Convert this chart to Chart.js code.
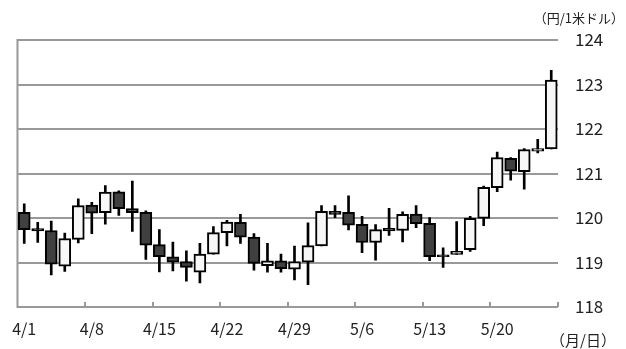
<!DOCTYPE html>
<html>
<head>
<meta charset="utf-8">
<script src="https://cdn.jsdelivr.net/npm/chart.js@4/dist/chart.umd.min.js"></script>
<style>
  html, body { margin: 0; padding: 0; background: #ffffff; }
  #wrap { width: 626px; height: 349px; }
</style>
</head>
<body>
<div id="wrap"><canvas id="c" width="626" height="349"></canvas></div>
<script>
// Trading days (weekdays) and daily yen/dollar rates
const dates = ['4/1','4/2','4/3','4/6','4/7','4/8','4/9','4/10','4/13','4/14',
               '4/15','4/16','4/17','4/20','4/21','4/22','4/23','4/24','4/27','4/28',
               '4/29','4/30','5/1','5/4','5/5','5/6','5/7','5/8','5/11','5/12',
               '5/13','5/14','5/15','5/18','5/19','5/20','5/21','5/22','5/25','5/26'];

const openRate  = [120.13,119.76,119.72,118.92,119.52,120.29,120.12,120.59,120.21,120.13,
                   119.40,119.13,119.02,118.78,119.19,119.67,119.90,119.57,118.93,119.04,
                   118.85,119.01,119.37,120.15,120.13,119.86,119.45,119.77,119.72,120.09,
                   119.88,119.17,119.18,119.29,119.99,120.68,121.34,121.04,121.50,121.55];
const highRate  = [120.32,119.90,119.93,119.66,120.43,120.35,120.73,120.61,120.83,120.16,
                   119.74,119.46,119.26,119.43,119.81,119.95,120.08,119.65,119.43,119.19,
                   119.37,119.89,120.28,120.28,120.50,120.04,119.85,120.22,120.14,120.28,
                   120.01,119.33,119.92,120.04,120.72,121.48,121.36,121.56,121.77,123.32];
const lowRate   = [119.43,119.45,118.72,118.80,119.44,119.65,119.86,120.06,119.70,119.07,
                   118.79,118.81,118.58,118.54,119.19,119.37,119.43,118.83,118.78,118.78,
                   118.61,118.50,119.37,120.01,119.73,119.22,119.05,119.61,119.46,119.78,
                   119.04,118.89,119.18,119.25,119.83,120.59,120.85,120.65,121.46,121.55];
const closeRate = [119.74,119.71,118.96,119.54,120.28,120.11,120.58,120.21,120.12,119.39,
                   119.13,119.01,118.89,119.19,119.67,119.91,119.57,118.98,119.04,118.86,
                   119.02,119.38,120.15,120.08,119.84,119.45,119.74,119.71,120.08,119.87,
                   119.13,119.13,119.25,119.99,120.69,121.36,121.05,121.54,121.56,123.10];

const yTicks = [118, 119, 120, 121, 122, 123, 124];
const yUnit = '（円/1米ドル）';
const xUnit = '（月/日）';

const UP_FILL = '#f7f7f7';
const DOWN_FILL = '#404040';
const GRID = '#999999';
const TEXT = '#222222';
const FONT = "'Noto Sans CJK JP', 'Noto Sans', sans-serif";

const bodies = dates.map((d, i) => [openRate[i], closeRate[i]]);
const wicks = dates.map((d, i) => [lowRate[i], highRate[i]]);
const bodyFill = dates.map((d, i) => closeRate[i] >= openRate[i] ? UP_FILL : DOWN_FILL);

// left axis line, weekly tick marks and unit captions
const frame = {
  id: 'frame',
  beforeDatasetsDraw(chart) {
    const { ctx, chartArea: a, scales: { x } } = chart;
    const step = x.getPixelForValue(1) - x.getPixelForValue(0);
    ctx.save();
    ctx.strokeStyle = GRID;
    ctx.lineWidth = 2;
    ctx.beginPath();
    ctx.moveTo(a.left, a.top - 1);
    ctx.lineTo(a.left, a.bottom + 1);
    for (let i = 5; i <= dates.length; i += 5) {
      const px = Math.round(x.getPixelForValue(i) - step / 2);
      ctx.moveTo(px, a.bottom);
      ctx.lineTo(px, a.bottom - 5);
    }
    ctx.stroke();
    ctx.restore();
  },
  afterDraw(chart) {
    const { ctx } = chart;
    ctx.save();
    ctx.fillStyle = TEXT;
    ctx.textAlign = 'right';
    ctx.textBaseline = 'middle';
    ctx.font = '13px ' + FONT;
    ctx.fillText(yUnit, 624, 18);
    ctx.font = '15px ' + FONT;
    ctx.fillText(xUnit, 616, 340);
    ctx.restore();
  }
};

new Chart(document.getElementById('c'), {
  type: 'bar',
  data: {
    labels: dates,
    datasets: [
      {
        label: 'body',
        data: bodies,
        backgroundColor: bodyFill,
        borderColor: '#000000',
        borderWidth: 2,
        borderSkipped: false,
        barThickness: 12,
        grouped: false,
        order: 1
      },
      {
        label: 'range',
        data: wicks,
        backgroundColor: '#000000',
        borderWidth: 0,
        barThickness: 2,
        grouped: false,
        order: 2
      }
    ]
  },
  options: {
    responsive: false,
    animation: false,
    layout: { padding: { left: 17, right: 0, top: 40, bottom: 0 } },
    plugins: { legend: { display: false }, tooltip: { enabled: false }, title: { display: false } },
    scales: {
      x: {
        offset: true,
        grid: { display: false, drawTicks: false },
        border: { display: false },
        ticks: {
          autoSkip: false,
          maxRotation: 0,
          padding: 12,
          color: TEXT,
          font: { family: FONT, size: 16 },
          callback(value, index) { return index % 5 === 0 ? dates[index] : ''; }
        },
        afterFit(s) { s.height = 42; }
      },
      y: {
        position: 'right',
        min: yTicks[0],
        max: yTicks[yTicks.length - 1],
        afterBuildTicks(s) { s.ticks = yTicks.map(v => ({ value: v })); },
        grid: { color: GRID, lineWidth: 2, drawTicks: false },
        border: { display: false },
        ticks: {
          padding: 17,
          color: TEXT,
          font: { family: FONT, size: 17 }
        },
        afterFit(s) { s.width = 68; }
      }
    }
  },
  plugins: [frame]
});
</script>
</body>
</html>
